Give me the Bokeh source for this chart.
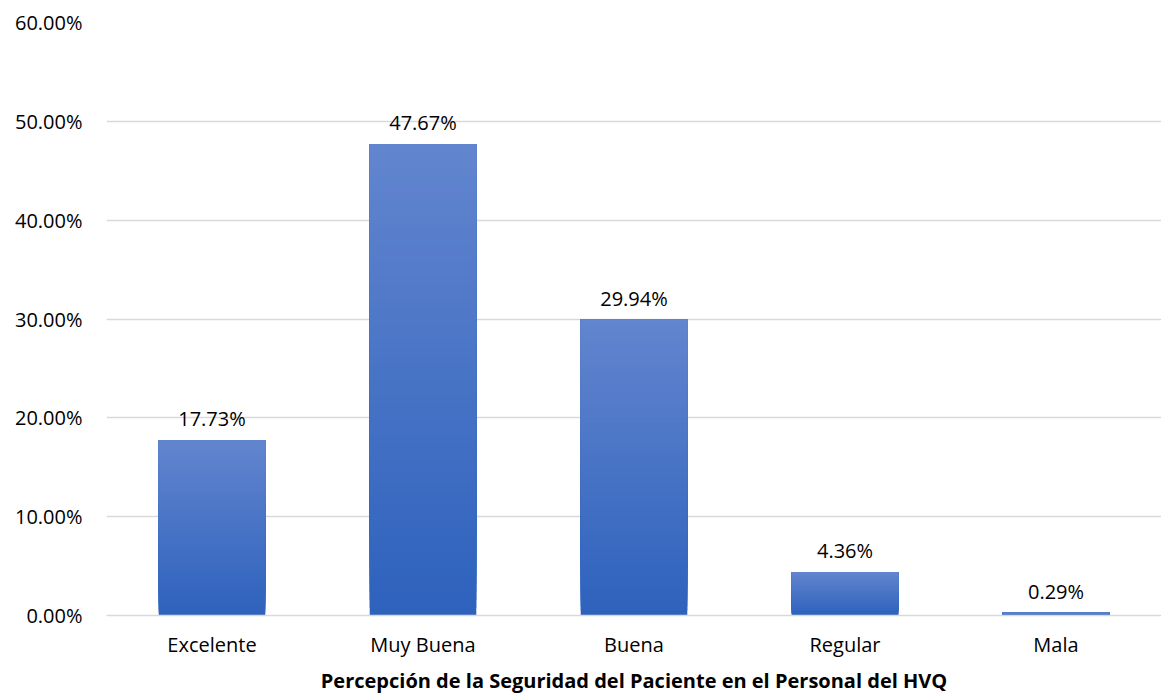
from bokeh.plotting import figure
from bokeh.models import ColumnDataSource, FactorRange, NumeralTickFormatter, Range1d
from bokeh.embed import file_html
from bokeh.resources import INLINE
from bokeh.core.properties import value

categories = ["Excelente", "Muy Buena", "Buena", "Regular", "Mala"]
percent_values = [17.73, 47.67, 29.94, 4.36, 0.29]
label_texts = ["17.73%", "47.67%", "29.94%", "4.36%", "0.29%"]
y_ticks = [0.0, 0.1, 0.2, 0.3, 0.4, 0.5, 0.6]
axis_title = "Percepción de la Seguridad del Paciente en el Personal del HVQ"

fracs = [v / 100.0 for v in percent_values]

FONT = "Open Sans"
TOP = (98, 133, 206)
BOT = (46, 98, 189)
N = 60

p = figure(width=1161, height=696, x_range=FactorRange(*categories, range_padding=0),
           y_range=Range1d(0, 0.6), output_backend="svg", toolbar_location=None,
           min_border_left=106, min_border_right=0, min_border_top=22, min_border_bottom=0)
p.outline_line_color = None
p.background_fill_color = "white"
p.border_fill_color = "white"

# gradient bars: overlapping slices per bar (each drawn from its start to the bar top)
xs, bots, tops, cols = [], [], [], []
for i in range(N):
    t = i / (N - 1)
    r = round(BOT[0] + (TOP[0] - BOT[0]) * t)
    g = round(BOT[1] + (TOP[1] - BOT[1]) * t)
    b = round(BOT[2] + (TOP[2] - BOT[2]) * t)
    for c, f in zip(categories, fracs):
        xs.append(c)
        bots.append(f * i / N)
        tops.append(f)
        cols.append("#%02x%02x%02x" % (r, g, b))
src = ColumnDataSource(dict(x=xs, bottom=bots, top=tops, color=cols))
p.vbar(x="x", bottom="bottom", top="top", width=0.505, fill_color="color",
       line_color=None, source=src)

lab = ColumnDataSource(dict(x=categories, y=fracs, t=label_texts))
p.text(x="x", y="y", text="t", source=lab, text_align="center", text_baseline="bottom",
       y_offset=-8, text_font=value(FONT), text_font_size="20px", text_color="#000000")

p.yaxis.ticker = y_ticks
p.yaxis.formatter = NumeralTickFormatter(format="0.00%")
p.yaxis.axis_line_color = None
p.yaxis.major_tick_line_color = None
p.yaxis.minor_tick_line_color = None
p.yaxis.major_label_text_font = FONT
p.yaxis.major_label_text_font_size = "20px"
p.yaxis.major_label_text_color = "#000000"
p.yaxis.major_label_standoff = 18

p.xaxis.axis_line_color = "#d9d9d9"
p.xaxis.axis_line_width = 1.5
p.xaxis.major_tick_line_color = None
p.xaxis.minor_tick_line_color = None
p.xaxis.major_label_text_font = FONT
p.xaxis.major_label_text_font_size = "20px"
p.xaxis.major_label_text_color = "#000000"
p.xaxis.major_label_standoff = 9
p.xaxis.axis_label = axis_title
p.xaxis.axis_label_text_font = FONT
p.xaxis.axis_label_text_font_style = "bold"
p.xaxis.axis_label_text_font_size = "20px"
p.xaxis.axis_label_text_color = "#000000"
p.xaxis.axis_label_standoff = 6

p.xgrid.grid_line_color = None
p.ygrid.grid_line_color = "#d9d9d9"
p.ygrid.grid_line_width = 1.5

open("out.html", "w").write(file_html(p, INLINE))
